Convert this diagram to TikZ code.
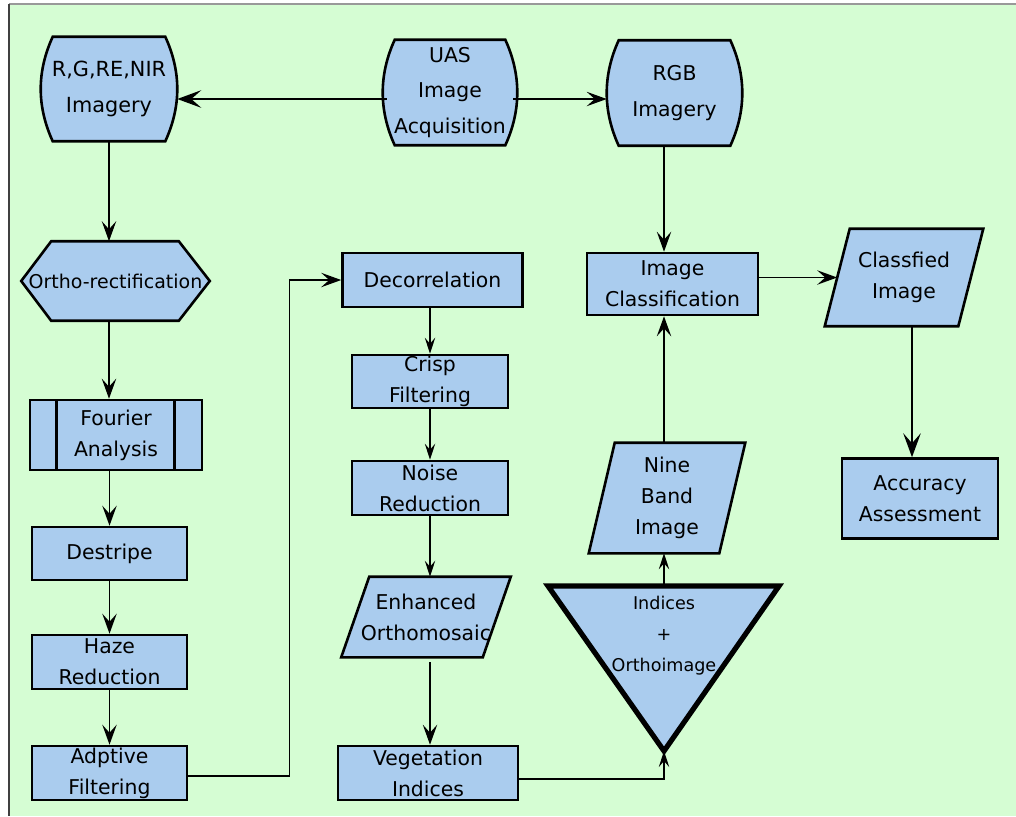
\documentclass[tikz,border=0pt]{standalone}
\usepackage{fontspec}
\setmainfont{DejaVu Sans}
\usetikzlibrary{arrows.meta,positioning,calc}
\definecolor{fcgreen}{RGB}{213,253,211}
\definecolor{fcblue}{RGB}{170,204,238}
\pgfdeclarelayer{bg}
\pgfsetlayers{bg,main}

\begin{document}
\begin{tikzpicture}[x=0.25mm, y=-0.25mm,
  txt/.style={align=center, inner sep=0pt, font=\fontsize{14.5}{22}\selectfont},
  box/.style={txt, draw, fill=fcblue, line width=0.65mm},
  shp/.style={txt},
  outl/.style={draw, fill=fcblue, line width=0.65mm, line join=miter},
  arr/.style={-{Stealth[length=5mm,width=3.6mm,inset=2mm]}, line width=0.4mm},
  arrs/.style={-{Stealth[length=4mm,width=2.6mm,inset=1.5mm]}, line width=0.35mm},
  arrl/.style={-{Stealth[length=6mm,width=4.4mm,inset=2.5mm]}, line width=0.45mm}
]
  \useasboundingbox (0,0) rectangle (1016,816);
  \begin{pgfonlayer}{bg}
    \fill[fcgreen] (9,4) rectangle (1016,816);
    \draw[black!40, line width=0.4mm] (9,4) -- (1016,4);
    \draw[black!75, line width=0.5mm] (9,4) -- (9,816);
  \end{pgfonlayer}

  % top row
  \node[shp, minimum width=34mm, minimum height=26mm, font=\fontsize{14.8}{25}\selectfont] (rgnir) at (109,89) {R,G,RE,NIR\\Imagery};
  \node[shp, minimum width=33.5mm, minimum height=26.25mm, font=\fontsize{14.5}{25}\selectfont] (uas) at (450,92.5) {UAS\\Image\\Acquisition};
  \node[shp, minimum width=33.75mm, minimum height=26.25mm, font=\fontsize{14.5}{26}\selectfont] (rgb) at (674.5,93) {RGB\\Imagery};

  % left column
  \node[shp, minimum width=47mm, minimum height=19.75mm, font=\fontsize{13.5}{20}\selectfont] (ortho) at (115.5,281) {Ortho-rectification};
  \node[box, minimum width=43mm, minimum height=17.5mm] (fourier) at (116,435) {Fourier\\Analysis};
  \draw[line width=0.65mm] ($(fourier.north west)+(28,1)$) -- ($(fourier.south west)+(28,-1)$);
  \draw[line width=0.65mm] ($(fourier.north east)+(-29,1)$) -- ($(fourier.south east)+(-29,-1)$);
  \node[box, minimum width=38.75mm, minimum height=13.25mm] (destripe) at (109.5,553.5) {Destripe};
  \node[box, minimum width=38.75mm, minimum height=13.5mm] (haze) at (109.5,662) {Haze\\Reduction};
  \node[box, minimum width=38.75mm, minimum height=13.5mm] (adaptive) at (109.5,773) {Adptive\\Filtering};

  % middle column
  \node[box, minimum width=45mm, minimum height=13.5mm] (decorr) at (432.5,280) {Decorrelation};
  \node[box, minimum width=39mm, minimum height=13.25mm] (crisp) at (430,381.5) {Crisp\\Filtering};
  \node[box, minimum width=39mm, minimum height=13.5mm] (noise) at (430,488) {Noise\\Reduction};
  \node[shp, minimum width=42.25mm, minimum height=20mm] (enhanced) at (426,617) {Enhanced\\Orthomosaic};
  \node[box, minimum width=45mm, minimum height=13.5mm] (veg) at (428,773) {Vegetation\\Indices};

  % right part
  \node[txt, font=\fontsize{12.5}{22}\selectfont] (tri) at (664,636) {Indices\\+\\Orthoimage};
  \coordinate (tritl) at (548,586);
  \coordinate (tritr) at (779,586);
  \coordinate (tritip) at (664,751);
  \coordinate (tritop) at (664,586);
  \node[shp, minimum width=39mm, minimum height=27.5mm] (nineband) at (667,498) {Nine\\Band\\Image};
  \node[box, minimum width=42.75mm, minimum height=15.5mm] (classif) at (672.5,284) {Image\\Classification};
  \node[shp, minimum width=39.5mm, minimum height=24.25mm] (classfied) at (904,277.5) {Classfied\\Image};
  \node[box, minimum width=39mm, minimum height=20mm] (accuracy) at (920,498.5) {Accuracy\\Assessment};

  \begin{pgfonlayer}{bg}
    \foreach \n in {rgnir,uas,rgb}
      \draw[outl] ($(\n.north west)+(12,0)$) -- ($(\n.north east)+(-12,0)$)
        .. controls +(16,35) and +(16,-35) .. ($(\n.south east)+(-12,0)$)
        -- ($(\n.south west)+(12,0)$)
        .. controls +(-16,-35) and +(-16,35) .. ($(\n.north west)+(12,0)$) -- cycle;
    \draw[outl] (ortho.west) -- ($(ortho.north west)+(30,0)$) -- ($(ortho.north east)+(-31,0)$)
      -- (ortho.east) -- ($(ortho.south east)+(-31,0)$) -- ($(ortho.south west)+(30,0)$) -- cycle;
    \foreach \n/\d in {enhanced/28,nineband/26,classfied/25}
      \draw[outl] ($(\n.north west)+(\d,0)$) -- (\n.north east) -- ($(\n.south east)+(-\d,0)$)
        -- (\n.south west) -- cycle;
    \draw[outl, line width=1.3mm] (tritl) -- (tritr) -- (tritip) -- cycle;
  \end{pgfonlayer}

  \coordinate (cfin) at ($(classfied.north west)!0.5!(classfied.south west)+(12.5,0)$);

  % connectors
  \draw[arrl] ($(uas.west)+(4,6.5)$) -- ($(rgnir.east)+(0,10)$);
  \draw[arr] ($(uas.east)+(-4,6.5)$) -- ($(rgb.west)+(0,6)$);
  \draw[arr] (rgnir.south) -- (rgnir.south |- ortho.north);
  \draw[arr] (rgnir.south |- ortho.south) -- (rgnir.south |- fourier.north);
  \draw[arr] (destripe.north |- fourier.south) -- (destripe.north);
  \draw[arr] (destripe) -- (haze);
  \draw[arr] (haze) -- (adaptive);
  \draw[arr] ($(adaptive.east)+(0,3)$) -- ++(101,0) |- (decorr.west);
  \draw[arrs] (crisp.north |- decorr.south) -- (crisp.north);
  \draw[arrs] (crisp) -- (noise);
  \draw[arrs] (noise.south) -- (noise.south |- enhanced.north);
  \draw[arr] ($(noise.south |- enhanced.south)+(0,5)$) -- (noise.south |- veg.north);
  \draw[arrs] ($(veg.east)+(0,6)$) -| (tritip);
  \draw[arrs] (tritop) -- (tritop |- nineband.south);
  \draw[arr] (nineband.north -| tritop) -- (classif.south -| tritop);
  \draw[arr] (rgb.south -| tritop) -- (classif.north -| tritop);
  \draw[arr] (classif.east |- cfin) -- (cfin);
  \draw[arrl] ($(accuracy.north |- classfied.south)+(-8,0)$) -- ($(accuracy.north)+(-8,0)$);
\end{tikzpicture}
\end{document}
